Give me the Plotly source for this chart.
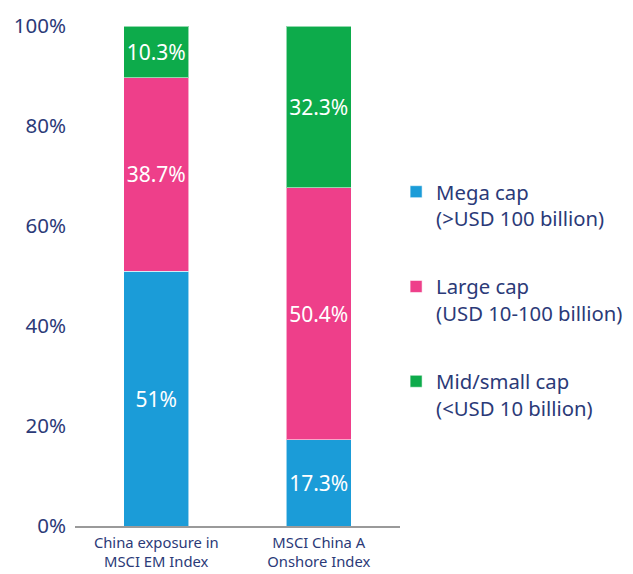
import plotly.graph_objects as go

categories = ["China exposure in<br>MSCI EM Index", "MSCI China A<br>Onshore Index"]
series_names = ["Mega cap<br>(>USD 100 billion)",
                "Large cap<br>(USD 10-100 billion)",
                "Mid/small cap<br>(<USD 10 billion)"]
mega_cap = [51, 17.3]
large_cap = [38.7, 50.4]
mid_small_cap = [10.3, 32.3]
colors = ["#1b9cd8", "#ee3f8a", "#0dab4b"]
y_ticks = [0, 20, 40, 60, 80, 100]

navy = "#2b3a78"
font_family = "Noto Sans, Open Sans, sans-serif"

fig = go.Figure()
for i, (name, vals, col) in enumerate(zip(series_names, [mega_cap, large_cap, mid_small_cap], colors)):
    fig.add_trace(go.Bar(
        x=categories, y=vals, name=name,
        legendgroup=f"g{i}",
        marker=dict(color=col, line=dict(color="rgba(255,255,255,0.55)", width=1)),
        text=[f"{v:g}%" for v in vals],
        textposition="inside", insidetextanchor="middle",
        textangle=0, constraintext="none",
        textfont=dict(color="white", size=21, family=font_family),
        width=0.4,
    ))

# page has an 8px body margin, so the figure is drawn 8px smaller and offset
fig.update_layout(
    width=625, height=566,
    barmode="stack",
    plot_bgcolor="white", paper_bgcolor="white",
    margin=dict(l=67, r=233, t=18, b=48, autoexpand=False),
    font=dict(family=font_family, color=navy),
    uniformtext=dict(mode=False),
    legend=dict(
        x=0.988, xanchor="left", y=0.708, yanchor="top",
        traceorder="grouped", tracegroupgap=39,
        valign="top",
        font=dict(size=20.3, color=navy, family=font_family),
        bgcolor="rgba(0,0,0,0)",
    ),
    xaxis=dict(
        showline=True, linecolor="#9a9a9a", linewidth=2,
        ticks="", tickfont=dict(size=14.8, color=navy), ticklabelstandoff=2,
        range=[-0.5, 1.5], showgrid=False, automargin=False,
    ),
    yaxis=dict(
        range=[0, 100], tickvals=y_ticks, ticktext=[f"{t}%" for t in y_ticks],
        showgrid=False, zeroline=False, showline=False, automargin=False,
        tickfont=dict(size=20.5, color=navy), ticklabelstandoff=8,
    ),
)

fig.write_html("out.html")
